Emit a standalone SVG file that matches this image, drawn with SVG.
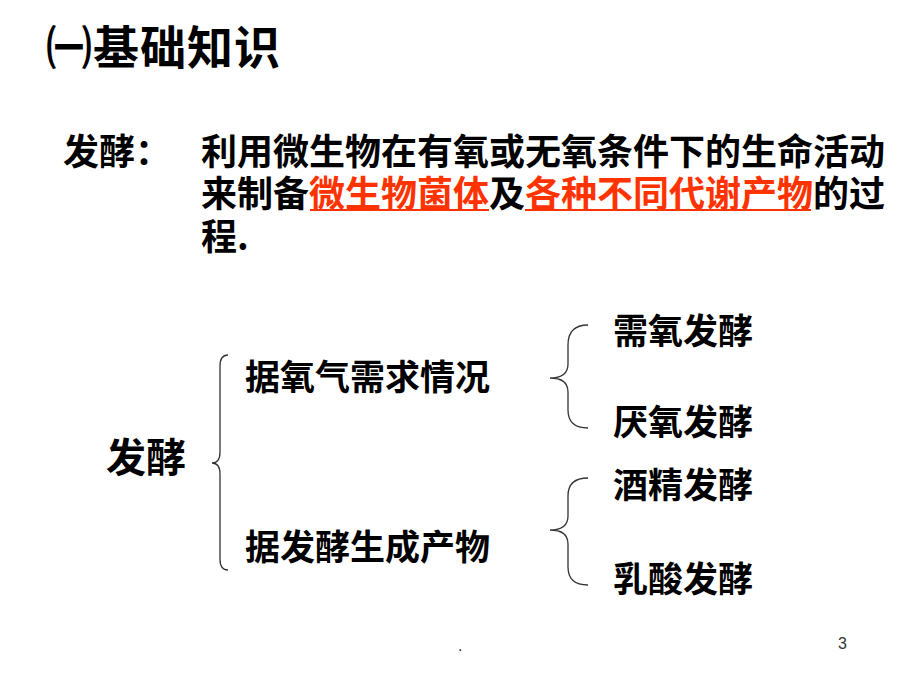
<svg xmlns="http://www.w3.org/2000/svg" width="920" height="690" viewBox="0 0 920 690">
<style>
.t{font-family:"Noto Sans CJK SC","Noto Sans",sans-serif;font-weight:bold;fill:#000}
.red{fill:#FF3300}
.ul{stroke:#FF3300;stroke-width:2}
.br{fill:none;stroke:#333;stroke-width:1.3}
.pg{font-family:"Liberation Sans",Arial,sans-serif;font-size:16px;fill:#333}
</style>
<rect width="920" height="690" fill="#fff"/>
<g id="title"><text class="t" x="46" y="64" font-size="46" letter-spacing="1">㈠基础知识</text></g>
<g id="definition">
<text class="t" x="63" y="165" font-size="36">发酵：</text>
<text class="t" x="201" y="165" font-size="36">利用微生物在有氧或无氧条件下的生命活动</text>
<text class="t" x="201" y="207" font-size="36">来制备<tspan class="red">微生物菌体</tspan>及<tspan class="red">各种不同代谢产物</tspan>的过</text>
<text class="t" x="201" y="250" font-size="36">程.</text>
<line class="ul" x1="310" y1="210" x2="489" y2="210"/>
<line class="ul" x1="525" y1="210" x2="811" y2="210"/>
</g>
<g id="root"><text class="t" x="106" y="472" font-size="40">发酵</text></g>
<g id="oxygen"><text class="t" x="245" y="390" font-size="35">据氧气需求情况</text></g>
<g id="product"><text class="t" x="245" y="560" font-size="35">据发酵生成产物</text></g>
<g id="aerobic"><text class="t" x="613" y="344" font-size="35">需氧发酵</text></g>
<g id="anaerobic"><text class="t" x="613" y="435" font-size="35">厌氧发酵</text></g>
<g id="alcohol"><text class="t" x="613" y="498" font-size="35">酒精发酵</text></g>
<g id="lactic"><text class="t" x="613" y="592" font-size="35">乳酸发酵</text></g>
<g id="connectors">
<path class="br" d="M228,355 Q220,355 220,366 L220,452 Q220,463 212,463 Q220,463 220,474 L220,559 Q220,570 228,570"/>
<path class="br" d="M588,325 Q568,325 568,345 L568,364 Q568,378 550,378 Q568,378 568,392 L568,410 Q568,428 588,428"/>
<path class="br" d="M588,478 Q568,478 568,496 L568,516 Q568,530 550,530 Q568,530 568,544 L568,567 Q568,585 588,585"/>
</g>
<g id="footer">
<text class="pg" x="458" y="651">.</text>
<text class="pg" x="838" y="649">3</text>
</g>
</svg>
